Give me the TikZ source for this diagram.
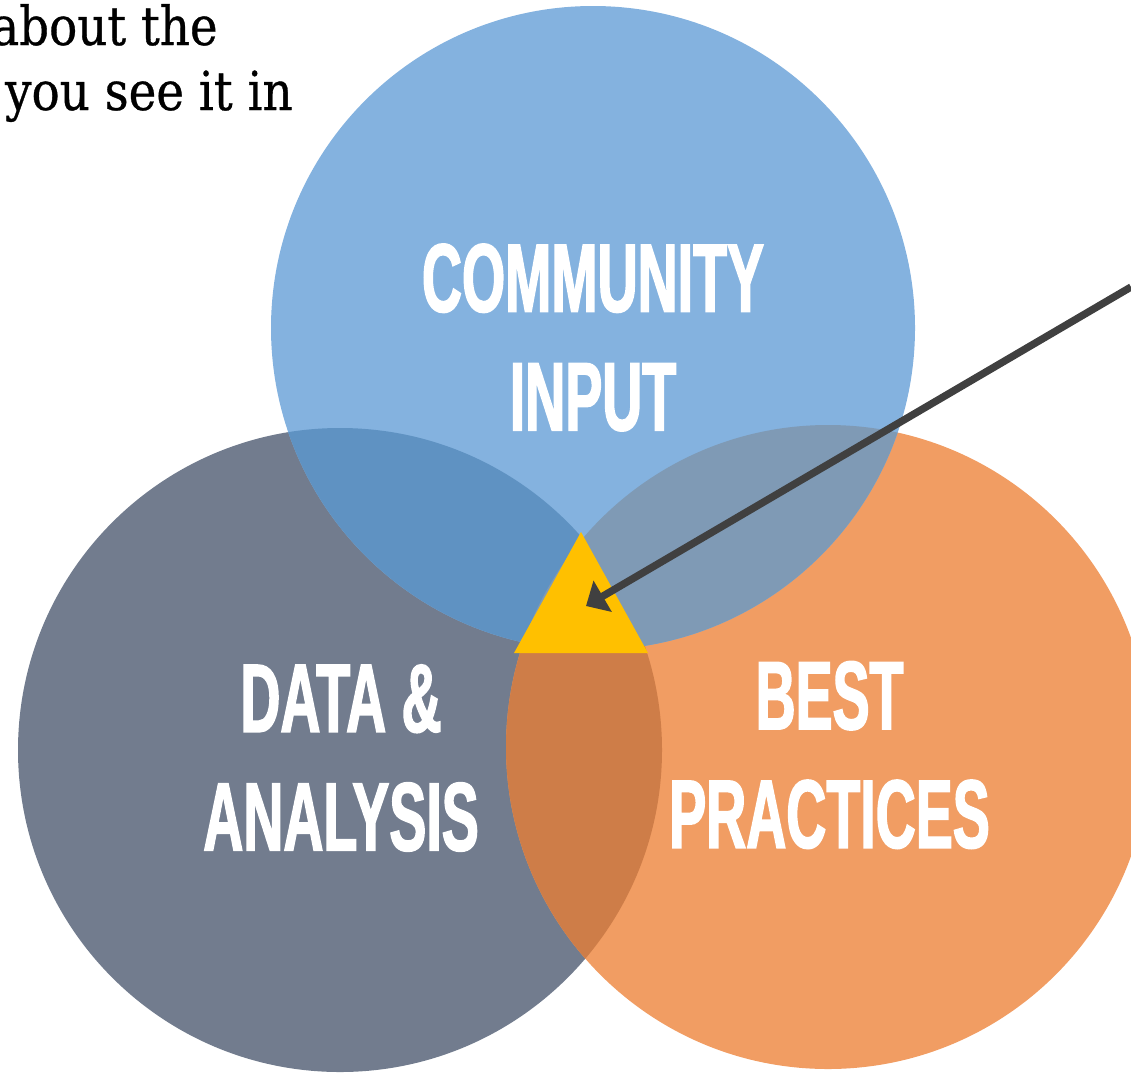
\documentclass[tikz,border=0pt]{standalone}
\usepackage{fontspec}
\usepackage{tikz}
\usetikzlibrary{arrows.meta}

\newfontfamily\venfont[FakeStretch=0.57, BoldFeatures={FakeBold=1.5}]{Liberation Sans}
\newfontfamily\notefont[FakeStretch=0.87, FakeBold=0.6]{DejaVu Serif}

\definecolor{commblue}{HTML}{84B2DF}
\definecolor{datagray}{HTML}{727C8E}
\definecolor{bestorange}{HTML}{F19D63}
\definecolor{commdata}{HTML}{5F92C2}
\definecolor{commbest}{HTML}{7F9AB5}
\definecolor{databest}{HTML}{CE7D48}
\definecolor{coreyellow}{HTML}{FFC000}
\definecolor{pointer}{HTML}{404040}

\begin{document}
\begin{tikzpicture}[x=0.02cm, y=-0.02cm,
    venlabel/.style={text=white, align=center, inner sep=0pt,
      font=\venfont\bfseries\fontsize{55.4}{67.5}\selectfont},
    note/.style={anchor=base east, inner sep=0pt,
      font=\notefont\fontsize{30.6}{36}\selectfont}]
    \useasboundingbox (0,0) rectangle (1131,1072);

    % Circle centres
    \coordinate (comm) at (593,328);
    \coordinate (data) at (340,750);
    \coordinate (best) at (828,747);
    \def\rad{322}

    % Draw the three circles
    \fill[datagray] (data) circle (\rad);
    \fill[bestorange] (best) circle (\rad);
    \fill[commblue] (comm) circle (\rad);

    % Overlaps
    \begin{scope}
        \clip (data) circle (\rad);
        \fill[databest] (best) circle (\rad);
    \end{scope}
    \begin{scope}
        \clip (data) circle (\rad);
        \fill[commdata] (comm) circle (\rad);
    \end{scope}
    \begin{scope}
        \clip (best) circle (\rad);
        \fill[commbest] (comm) circle (\rad);
    \end{scope}

    % Centre triangle
    \fill[coreyellow] (581,532) -- (514,653) -- (648,653) -- cycle;

    % Labels
    \node[venlabel] (commlabel) at (593,337.5) {COMMUNITY\\INPUT};
    \node[venlabel] (datalabel) at (341,758) {DATA \&\\ANALYSIS};
    \node[venlabel] (bestlabel) at (829.5,755) {BEST\\PRACTICES};

    % Pointer into the centre
    \coordinate (tail) at (1131,287);
    \coordinate (tip) at (586,606);
    \draw[pointer, line width=4.2pt, -{Triangle[length=11pt, width=20pt]}] (tail) -- (tip);

    % Cut-off note, top left
    \node[note] (noteone) at (218,45) {about the};
    \node[note] (notetwo) at (293,110) {you see it in};
\end{tikzpicture}
\end{document}
